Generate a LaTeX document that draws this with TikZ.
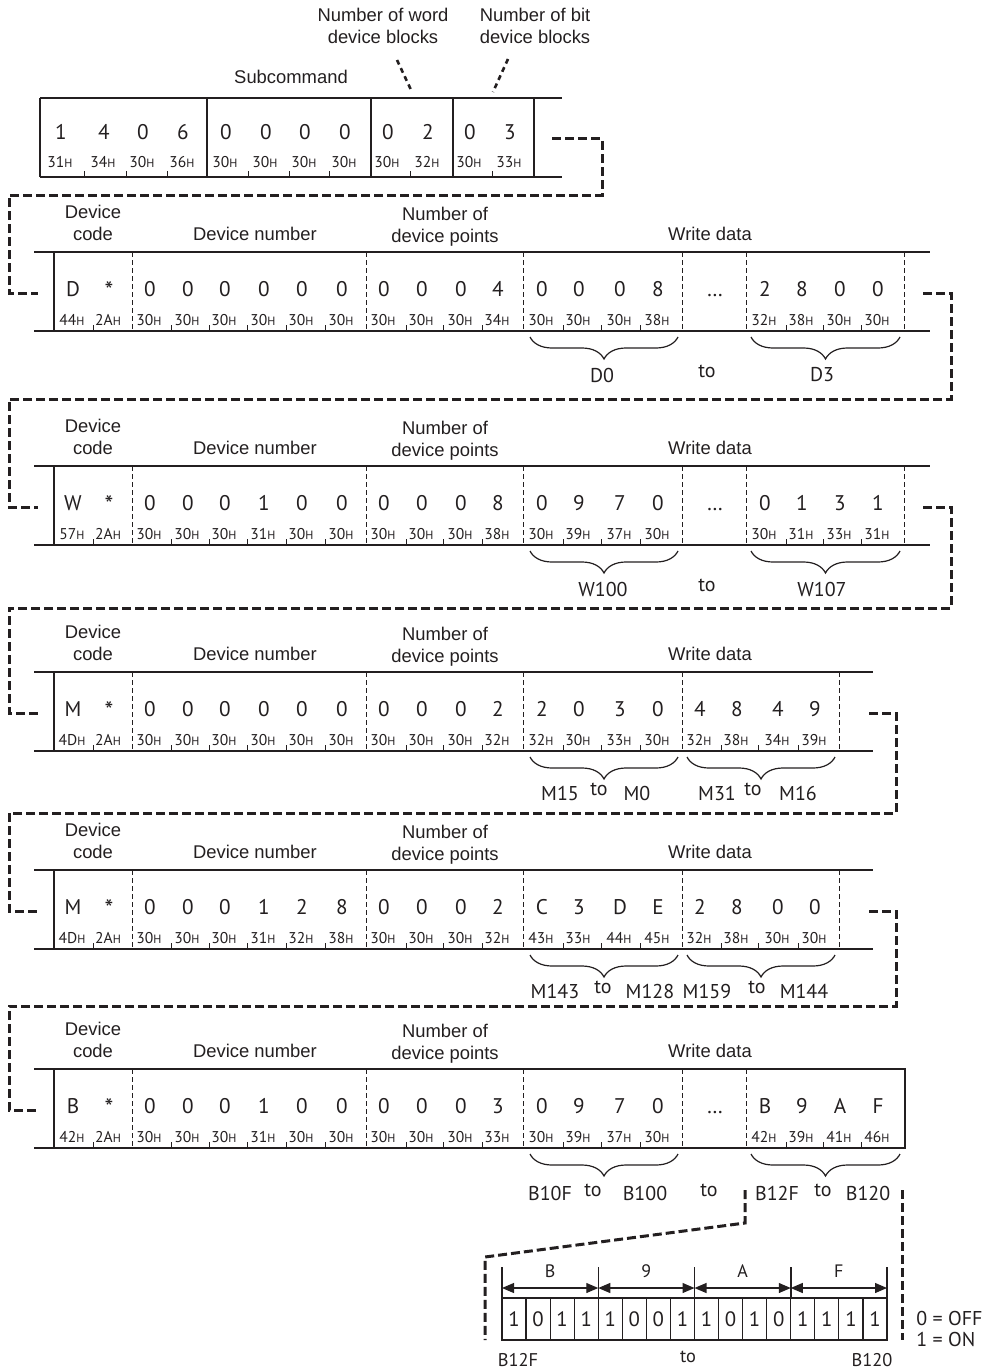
\documentclass[tikz,border=0pt]{standalone}
\usepackage{fontspec}
\setmainfont{Liberation Sans}
\newfontfamily\digitfont{PT Sans}
\usetikzlibrary{arrows.meta,decorations.pathreplacing}
\definecolor{ink}{RGB}{35,31,32}
\newcommand{\hx}[1]{#1{\fontsize{6pt}{6pt}\selectfont H}}
\newcommand{\wildcard}{\raisebox{-1.6pt}{\fontsize{12.5pt}{12pt}\selectfont *}}

\begin{document}
\begin{tikzpicture}[
        x=0.5pt, y=-0.5pt, color=ink,
        heading/.style={font=\fontsize{9.2pt}{11pt}\selectfont, align=center, inner sep=0pt},
        digit/.style={font=\digitfont\fontsize{10.6pt}{12pt}\selectfont, anchor=base, inner sep=0pt},
        hexcode/.style={font=\digitfont\fontsize{7.8pt}{8pt}\selectfont, anchor=base, inner sep=0pt},
        devname/.style={font=\digitfont\fontsize{10pt}{12pt}\selectfont, inner sep=0pt},
        boxline/.style={line width=0.75pt},
        divider/.style={line width=0.5pt, dash pattern=on 2.5pt off 1.5pt},
        hexmark/.style={line width=0.5pt},
        joiner/.style={line width=1.5pt, dash pattern=on 4.5pt off 2pt},
        hint/.style={line width=1.3pt, dash pattern=on 2.5pt off 2pt},
        curly/.style={line width=0.6pt, decorate, decoration={brace, mirror, amplitude=11pt}},
        bitcell/.style={draw, line width=0.6pt, minimum width=12.03pt, minimum height=21pt, inner sep=0pt, font=\digitfont\fontsize{10.4pt}{12pt}\selectfont},
        bitspan/.style={{Triangle[length=6pt,width=5pt]}-{Triangle[length=6pt,width=5pt]}, line width=0.6pt}
    ]
    \useasboundingbox (0,0) rectangle (985,1370);

    % Command header
    \node[heading] (wordblk) at (383,26) {Number of word\\device blocks};
    \node[heading] (bitblk) at (535,26) {Number of bit\\device blocks};
    \node[heading] (subcmd) at (291,77) {Subcommand};
    \draw[boxline] (40,98) -- (562,98) (40,177) -- (562,177) (40,98) -- (40,177);
    \foreach \x in {207,371,453,534} \draw[boxline] (\x,98) -- (\x,177);
    \foreach \x/\c/\h [count=\i] in {61/1/31,104/4/34,143/0/30,183/6/36,226/0/30,266/0/30,305/0/30,345/0/30,388/0/30,428/2/32,470/0/30,510/3/33} {
        \node[digit] (cmd-c\i) at (\x,140) {\c};
        \node[hexcode] (cmd-h\i) at (\x-1,167) {\hx{\h}};
    }
    \foreach \x in {84,126,167,248,289,329,410,492} \draw[hexmark] (\x,177) -- (\x,171);
    \coordinate (word-a) at (397,60);
    \coordinate (word-b) at (412,92);
    \coordinate (bit-a) at (508,59);
    \coordinate (bit-b) at (493,92);
    \draw[hint] (word-a) -- (word-b);
    \draw[hint] (bit-a) -- (bit-b);
    \coordinate (cmd-out) at (552,139);

    % D0 to D3
    \begin{scope}[shift={(0,252)}]
        \node[heading] (d-code) at (93,-29) {Device\\code};
        \node[heading] (d-num) at (255,-18) {Device number};
        \node[heading] (d-pts) at (445,-25) {Number of\\device points};
        \node[heading] (d-data) at (710,-18) {Write data};
        \draw[boxline] (34,0) -- (930,0) (34,79) -- (930,79) (54,0) -- (54,79);
        \foreach \x in {132,366,523,682,746,904} \draw[divider] (\x,0) -- (\x,79);
        \foreach \x/\c/\h [count=\i] in {73/D/44,109/\wildcard/2A,150/0/30,188/0/30,225/0/30,264/0/30,302/0/30,342/0/30,384/0/30,422/0/30,461/0/30,498/4/34,542/0/30,579/0/30,620/0/30,658/8/38,765/2/32,802/8/38,840/0/30,878/0/30} {
            \node[digit] (d-c\i) at (\x,44) {\c};
            \node[hexcode] (d-h\i) at (\x-1,73) {\hx{\h}};
        }
        \node[digit] (d-dots) at (715,44) {\dots};
        \foreach \x in {93,171,209,247,286,325,406,443,482,563,601,640,786,823,861} \draw[hexmark] (\x,79) -- (\x,73);
        \draw[curly] (530,85) -- (678,85);
        \draw[curly] (751,85) -- (900,85);
        \node[devname] (d-first) at (602,123) {D0};
        \node[devname] (d-to) at (707,119) {to};
        \node[devname] (d-last) at (822,123) {D3};
        \coordinate (d-in) at (38,41);
        \coordinate (d-out) at (923,41);
    \end{scope}

    % W100 to W107
    \begin{scope}[shift={(0,466)}]
        \node[heading] (w-code) at (93,-29) {Device\\code};
        \node[heading] (w-num) at (255,-18) {Device number};
        \node[heading] (w-pts) at (445,-25) {Number of\\device points};
        \node[heading] (w-data) at (710,-18) {Write data};
        \draw[boxline] (34,0) -- (930,0) (34,79) -- (930,79) (54,0) -- (54,79);
        \foreach \x in {132,366,523,682,746,904} \draw[divider] (\x,0) -- (\x,79);
        \foreach \x/\c/\h [count=\i] in {73/W/57,109/\wildcard/2A,150/0/30,188/0/30,225/0/30,264/1/31,302/0/30,342/0/30,384/0/30,422/0/30,461/0/30,498/8/38,542/0/30,579/9/39,620/7/37,658/0/30,765/0/30,802/1/31,840/3/33,878/1/31} {
            \node[digit] (w-c\i) at (\x,44) {\c};
            \node[hexcode] (w-h\i) at (\x-1,73) {\hx{\h}};
        }
        \node[digit] (w-dots) at (715,44) {\dots};
        \foreach \x in {93,171,209,247,286,325,406,443,482,563,601,640,786,823,861} \draw[hexmark] (\x,79) -- (\x,73);
        \draw[curly] (530,85) -- (678,85);
        \draw[curly] (751,85) -- (900,85);
        \node[devname] (w-first) at (603,123) {W100};
        \node[devname] (w-to) at (707,119) {to};
        \node[devname] (w-last) at (822,123) {W107};
        \coordinate (w-in) at (38,41);
        \coordinate (w-out) at (923,41);
    \end{scope}

    % M0 to M31
    \begin{scope}[shift={(0,672)}]
        \node[heading] (m-code) at (93,-29) {Device\\code};
        \node[heading] (m-num) at (255,-18) {Device number};
        \node[heading] (m-pts) at (445,-25) {Number of\\device points};
        \node[heading] (m-data) at (710,-18) {Write data};
        \draw[boxline] (34,0) -- (873,0) (34,79) -- (873,79) (54,0) -- (54,79);
        \foreach \x in {132,366,523,682,839} \draw[divider] (\x,0) -- (\x,79);
        \foreach \x/\c/\h [count=\i] in {73/M/4D,109/\wildcard/2A,150/0/30,188/0/30,225/0/30,264/0/30,302/0/30,342/0/30,384/0/30,422/0/30,461/0/30,498/2/32,542/2/32,579/0/30,620/3/33,658/0/30,700/4/32,737/8/38,778/4/34,815/9/39} {
            \node[digit] (m-c\i) at (\x,44) {\c};
            \node[hexcode] (m-h\i) at (\x-1,73) {\hx{\h}};
        }
        \foreach \x in {93,171,209,247,286,325,406,443,482,563,601,640,721,758,798} \draw[hexmark] (\x,79) -- (\x,73);
        \draw[curly] (530,85) -- (678,85);
        \draw[curly] (687,85) -- (835,85);
        \node[devname] (m-hi1) at (560,121) {M15};
        \node[devname] (m-to1) at (599,117) {to};
        \node[devname] (m-lo1) at (637,121) {M0};
        \node[devname] (m-hi2) at (717,121) {M31};
        \node[devname] (m-to2) at (753,117) {to};
        \node[devname] (m-lo2) at (798,121) {M16};
        \coordinate (m-in) at (38,41);
        \coordinate (m-out) at (869,41);
    \end{scope}

    % M128 to M159
    \begin{scope}[shift={(0,870)}]
        \node[heading] (n-code) at (93,-29) {Device\\code};
        \node[heading] (n-num) at (255,-18) {Device number};
        \node[heading] (n-pts) at (445,-25) {Number of\\device points};
        \node[heading] (n-data) at (710,-18) {Write data};
        \draw[boxline] (34,0) -- (873,0) (34,79) -- (873,79) (54,0) -- (54,79);
        \foreach \x in {132,366,523,682,839} \draw[divider] (\x,0) -- (\x,79);
        \foreach \x/\c/\h [count=\i] in {73/M/4D,109/\wildcard/2A,150/0/30,188/0/30,225/0/30,264/1/31,302/2/32,342/8/38,384/0/30,422/0/30,461/0/30,498/2/32,542/C/43,579/3/33,620/D/44,658/E/45,700/2/32,737/8/38,778/0/30,815/0/30} {
            \node[digit] (n-c\i) at (\x,44) {\c};
            \node[hexcode] (n-h\i) at (\x-1,73) {\hx{\h}};
        }
        \foreach \x in {93,171,209,247,286,325,406,443,482,563,601,640,721,758,798} \draw[hexmark] (\x,79) -- (\x,73);
        \draw[curly] (530,85) -- (678,85);
        \draw[curly] (687,85) -- (835,85);
        \node[devname] (n-hi1) at (555,121) {M143};
        \node[devname] (n-to1) at (603,117) {to};
        \node[devname] (n-lo1) at (650,121) {M128};
        \node[devname] (n-hi2) at (707,121) {M159};
        \node[devname] (n-to2) at (757,117) {to};
        \node[devname] (n-lo2) at (804,121) {M144};
        \coordinate (n-in) at (38,41);
        \coordinate (n-out) at (869,41);
    \end{scope}

    % B100 to B12F
    \begin{scope}[shift={(0,1069)}]
        \node[heading] (b-code) at (93,-29) {Device\\code};
        \node[heading] (b-num) at (255,-18) {Device number};
        \node[heading] (b-pts) at (445,-25) {Number of\\device points};
        \node[heading] (b-data) at (710,-18) {Write data};
        \draw[boxline] (34,0) -- (905,0) -- (905,79) -- (34,79) (54,0) -- (54,79);
        \foreach \x in {132,366,523,682,746} \draw[divider] (\x,0) -- (\x,79);
        \foreach \x/\c/\h [count=\i] in {73/B/42,109/\wildcard/2A,150/0/30,188/0/30,225/0/30,264/1/31,302/0/30,342/0/30,384/0/30,422/0/30,461/0/30,498/3/33,542/0/30,579/9/39,620/7/37,658/0/30,765/B/42,802/9/39,840/A/41,878/F/46} {
            \node[digit] (b-c\i) at (\x,44) {\c};
            \node[hexcode] (b-h\i) at (\x-1,73) {\hx{\h}};
        }
        \node[digit] (b-dots) at (715,44) {\dots};
        \foreach \x in {93,171,209,247,286,325,406,443,482,563,601,640,786,823,861} \draw[hexmark] (\x,79) -- (\x,73);
        \draw[curly] (530,85) -- (678,85);
        \draw[curly] (751,85) -- (900,85);
        \node[devname] (b-hi1) at (550,124) {B10F};
        \node[devname] (b-to1) at (593,121) {to};
        \node[devname] (b-lo1) at (645,124) {B100};
        \node[devname] (b-to) at (709,121) {to};
        \node[devname] (b-hi2) at (777,124) {B12F};
        \node[devname] (b-to2) at (823,121) {to};
        \node[devname] (b-lo2) at (868,124) {B120};
        \coordinate (b-in) at (38,41);
        \coordinate (zoom-l) at (745,121);
        \coordinate (zoom-r) at (902,121);
    \end{scope}

    % Links between blocks
    \draw[joiner] (cmd-out) -- ++(50,0) |- (9,195) |- (d-in);
    \draw[joiner] (d-out) -- ++(28,0) |- (9,399) |- (w-in);
    \draw[joiner] (w-out) -- ++(28,0) |- (9,608) |- (m-in);
    \draw[joiner] (m-out) -- ++(27,0) |- (9,813) |- (n-in);
    \draw[joiner] (n-out) -- ++(27,0) |- (9,1006) |- (b-in);
    \draw[joiner] (zoom-l) -- (745,1223) -- (485,1257) -- (485,1340);
    \draw[joiner] (zoom-r) -- (902,1340);

    % Bits of B12F to B120
    \foreach \b [count=\i] in {1,0,1,1,1,0,0,1,1,0,1,0,1,1,1,1}
        \node[bitcell] (bit\i) at ({489.97+24.0625*\i},1319) {\b};
    \foreach \i in {0,...,4} {
        \coordinate (gb\i) at ({502+96.25*\i},1288);
        \draw[boxline] (gb\i) ++(0,-21) -- ++(0,31);
    }
    \foreach \l/\a/\b in {B/0/1,9/1/2,A/2/3,F/3/4}
        \draw[bitspan] (gb\a) -- node[devname, font=\digitfont\fontsize{9pt}{10pt}\selectfont, above=5pt] (grp-\l) {\l} (gb\b);
    \node[devname, font=\digitfont\fontsize{9.2pt}{10pt}\selectfont] (bits-hi) at (518,1360) {B12F};
    \node[devname, font=\digitfont\fontsize{9.2pt}{10pt}\selectfont] (bits-to) at (688,1357) {to};
    \node[devname, font=\digitfont\fontsize{9.2pt}{10pt}\selectfont] (bits-lo) at (872,1360) {B120};
    \node[devname, anchor=west] (key-off) at (916,1318) {0 = OFF};
    \node[devname, anchor=west] (key-on) at (916,1339) {1 = ON};

\end{tikzpicture}
\end{document}
